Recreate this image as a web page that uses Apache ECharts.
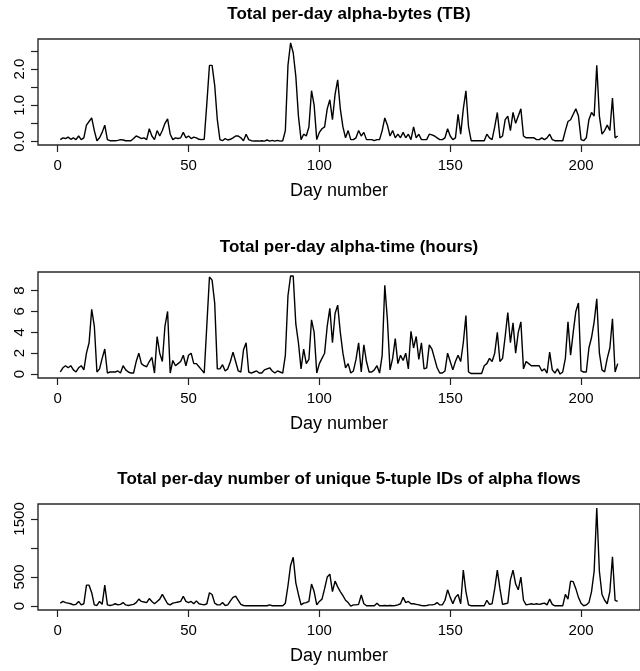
<!DOCTYPE html>
<html>
<head>
<meta charset="utf-8">
<script src="https://cdn.jsdelivr.net/npm/echarts@6/dist/echarts.min.js"></script>
<style>
  html, body { margin: 0; padding: 0; background: #fff; }
  #chart { width: 640px; height: 671px; }
</style>
</head>
<body>
<div id="chart"></div>
<script>
// daily totals, day 1 .. 214
var bytesTB = [
  0.05, 0.1, 0.08, 0.12, 0.06, 0.1, 0.05, 0.15, 0.05, 0.1,
  0.45, 0.55, 0.65, 0.3, 0.02, 0.1, 0.25, 0.45, 0.05, 0.02,
  0.02, 0.02, 0.03, 0.05, 0.04, 0.02, 0.02, 0.02, 0.08, 0.15,
  0.12, 0.08, 0.1, 0.05, 0.35, 0.15, 0.05, 0.3, 0.15, 0.3,
  0.5, 0.62, 0.2, 0.05, 0.1, 0.08, 0.1, 0.25, 0.1, 0.15,
  0.08, 0.12, 0.1, 0.06, 0.05, 0.06, 1.05, 2.1, 2.1, 1.55,
  0.6, 0.05, 0.02, 0.08, 0.04, 0.06, 0.1, 0.15, 0.15, 0.1,
  0.02, 0.2, 0.05, 0.02, 0.01, 0.01, 0.01, 0.02, 0.01, 0.04,
  0.01, 0.03, 0.01, 0.03, 0.01, 0.02, 0.3, 2.1, 2.72, 2.45,
  1.8, 0.7, 0.05, 0.2, 0.15, 0.4, 1.4, 1.0, 0.05, 0.25,
  0.35, 0.4, 0.9, 1.15, 0.6, 1.3, 1.7, 0.9, 0.4, 0.1,
  0.3, 0.05, 0.05, 0.1, 0.3, 0.15, 0.25, 0.05, 0.05, 0.05,
  0.02, 0.05, 0.05, 0.3, 0.65, 0.45, 0.15, 0.3, 0.1, 0.2,
  0.1, 0.25, 0.1, 0.2, 0.05, 0.4, 0.1, 0.2, 0.05, 0.05,
  0.05, 0.2, 0.18, 0.15, 0.1, 0.05, 0.05, 0.1, 0.35, 0.15,
  0.05, 0.1, 0.75, 0.2, 0.9, 1.4, 0.4, 0.02, 0.02, 0.02,
  0.02, 0.02, 0.02, 0.2, 0.1, 0.05, 0.4, 0.8, 0.1, 0.15,
  0.6, 0.7, 0.3, 0.8, 0.5, 0.7, 0.9, 0.15, 0.1, 0.1,
  0.1, 0.1, 0.05, 0.05, 0.1, 0.05, 0.1, 0.2, 0.05, 0.02,
  0.02, 0.02, 0.02, 0.3, 0.55, 0.6, 0.75, 0.9, 0.7, 0.05,
  0.02, 0.1, 0.6, 0.8, 0.7, 2.1, 0.7, 0.2, 0.3, 0.45,
  0.3, 1.2, 0.1, 0.15
];
var timeHours = [
  0.2, 0.6, 0.8, 0.6, 0.8, 0.4, 0.2, 0.6, 0.8, 0.4,
  2.0, 3.0, 6.2, 4.6, 0.2, 0.5, 1.5, 2.4, 0.1, 0.2,
  0.2, 0.2, 0.3, 0.1, 0.8, 0.4, 0.2, 0.1, 0.1, 1.2,
  2.0, 1.0, 0.8, 0.7, 1.2, 1.6, 0.1, 3.6, 2.0, 1.2,
  4.6, 6.0, 0.1, 1.3, 0.8, 1.0, 1.2, 1.8, 0.8, 1.8,
  2.0, 1.0, 1.0, 0.7, 0.4, 0.1, 4.7, 9.3, 9.0, 6.8,
  0.5, 0.5, 0.9, 0.3, 0.5, 1.2, 2.1, 1.2, 0.3, 0.2,
  2.3, 3.0, 0.2, 0.1, 0.2, 0.3, 0.1, 0.1, 0.4, 0.5,
  0.6, 0.3, 0.1, 0.3, 0.2, 0.1, 1.8, 7.5, 9.4, 9.4,
  4.8, 3.0, 0.5, 2.4, 1.0, 1.4, 5.2, 4.0, 0.1, 1.0,
  1.5, 2.0, 4.6, 6.3, 3.0, 5.8, 6.6, 4.0, 2.0, 0.6,
  1.0, 0.1, 0.3, 1.4, 3.0, 0.2, 2.8, 1.2, 0.2, 0.2,
  0.4, 0.8, 0.1, 1.8, 8.5, 5.2, 0.4, 1.5, 3.4, 1.0,
  1.8, 1.3, 2.0, 0.5, 4.1, 2.5, 3.6, 1.4, 3.0, 0.5,
  0.6, 2.8, 2.4, 1.5, 0.6, 0.1, 0.1, 0.3, 2.0, 1.2,
  0.4, 1.2, 1.8, 1.2, 3.0, 5.6, 0.2, 0.05, 0.05, 0.05,
  0.05, 0.05, 0.8, 1.0, 1.5, 1.2, 2.0, 4.0, 1.2, 1.5,
  3.6, 5.9, 3.0, 4.9, 2.0, 4.0, 5.0, 0.5, 1.2, 1.0,
  0.8, 0.8, 0.8, 0.8, 0.3, 0.5, 0.1, 2.1, 0.4, 0.1,
  0.5, 0.0, 0.2, 1.5, 5.0, 1.8, 4.0, 6.0, 6.8, 0.3,
  0.2, 0.2, 2.5, 3.5, 5.0, 7.2, 2.0, 0.4, 0.2, 1.5,
  2.5, 5.3, 0.2, 1.0
];
var flowIds = [
  50, 80, 60, 50, 40, 20, 30, 80, 20, 40,
  360, 360, 230, 20, 10, 80, 30, 360, 20, 10,
  20, 40, 20, 30, 60, 20, 10, 20, 30, 60,
  120, 80, 70, 60, 130, 80, 40, 80, 120, 200,
  120, 40, 20, 50, 60, 70, 80, 170, 80, 60,
  80, 40, 90, 40, 30, 20, 40, 230, 200, 50,
  20, 20, 60, 10, 20, 90, 150, 170, 100, 30,
  10, 5, 5, 5, 5, 5, 5, 5, 5, 5,
  20, 5, 5, 5, 5, 5, 50, 350, 700, 840,
  400, 200, 20, 50, 60, 80, 380, 250, 20, 80,
  120, 300, 500, 550, 250, 430, 330, 250, 180, 100,
  60, 0, 20, 20, 30, 190, 40, 5, 5, 5,
  5, 50, 5, 5, 10, 5, 10, 5, 10, 20,
  40, 150, 60, 80, 40, 40, 30, 20, 10, 5,
  10, 20, 20, 30, 60, 20, 20, 100, 280, 150,
  40, 150, 200, 40, 620, 250, 20, 5, 5, 5,
  5, 5, 5, 100, 30, 40, 300, 620, 300, 30,
  40, 50, 450, 620, 380, 280, 500, 100, 20, 30,
  40, 30, 40, 30, 40, 50, 20, 120, 30, 5,
  5, 5, 5, 200, 120, 430, 420, 300, 150, 50,
  5, 20, 60, 250, 600, 1690, 600, 200, 100, 40,
  250, 850, 100, 80
];

var titles = [
  'Total per-day alpha-bytes (TB)',
  'Total per-day alpha-time (hours)',
  'Total per-day number of unique 5-tuple IDs of alpha flows'
];
var xLabel = 'Day number';
var xTicks = [0, 50, 100, 150, 200];
var yTicks = [
  [0, 0.5, 1, 1.5, 2, 2.5],
  [0, 2, 4, 6, 8],
  [0, 500, 1000, 1500]
];
var yTickLabels = [
  [0, 1, 2],
  [0, 2, 4, 6, 8],
  [0, 500, 1500]
];

var FONT = 'Liberation Sans, Arial, sans-serif';
var series = [bytesTB, timeHours, flowIds];
var gridTops = [39, 272, 504];
var plotH = 106;

function xRange(n) {
  // R style: data range padded by 4%
  var pad = (n - 1) * 0.04;
  return [1 - pad, n + pad];
}
function yRange(vals) {
  var lo = Math.min.apply(null, vals), hi = Math.max.apply(null, vals);
  var pad = (hi - lo) * 0.04;
  return [lo - pad, hi + pad];
}

var chart = echarts.init(document.getElementById('chart'), null, { renderer: 'canvas' });

var option = {
  animation: false,
  backgroundColor: '#fff',
  title: [],
  grid: [],
  xAxis: [],
  yAxis: [],
  series: []
};

series.forEach(function (vals, k) {
  var xr = xRange(vals.length);
  var yr = yRange(vals);
  option.title.push({
    text: titles[k],
    left: 344,
    top: gridTops[k] - 38,
    textAlign: 'center',
    textStyle: { fontFamily: FONT, fontSize: 17, fontWeight: 'bold', color: '#000' }
  });
  option.grid.push({
    left: 38, top: gridTops[k], width: 612, height: plotH,
    show: true, borderColor: '#2a2a2a', borderWidth: 1.4, backgroundColor: 'transparent'
  });
  option.xAxis.push({
    type: 'value', gridIndex: k, min: xr[0], max: xr[1],
    name: xLabel, nameLocation: 'middle', nameGap: 37,
    nameTextStyle: { fontFamily: FONT, fontSize: 18, color: '#000' },
    axisLine: { show: false, onZero: false },
    axisTick: { show: true, length: 7, lineStyle: { color: '#222', width: 1.2 }, customValues: xTicks },
    axisLabel: { fontFamily: FONT, fontSize: 15, color: '#000', margin: 13, customValues: xTicks },
    splitLine: { show: false }
  });
  option.yAxis.push({
    type: 'value', gridIndex: k, min: yr[0], max: yr[1],
    axisLine: { show: false, onZero: false },
    axisTick: { show: true, length: 7, lineStyle: { color: '#222', width: 1.2 }, customValues: yTicks[k] },
    axisLabel: {
      fontFamily: FONT, fontSize: 15, color: '#000', rotate: 90, margin: 11,
      customValues: yTickLabels[k],
      formatter: function (v) { return k === 0 ? Number(v).toFixed(1) : String(v); }
    },
    splitLine: { show: false }
  });
  option.series.push({
    type: 'line', xAxisIndex: k, yAxisIndex: k,
    data: vals.map(function (v, i) { return [i + 1, v]; }),
    showSymbol: false, symbol: 'none',
    lineStyle: { color: '#000', width: 1.4 }
  });
});

chart.setOption(option);
</script>
</body>
</html>
